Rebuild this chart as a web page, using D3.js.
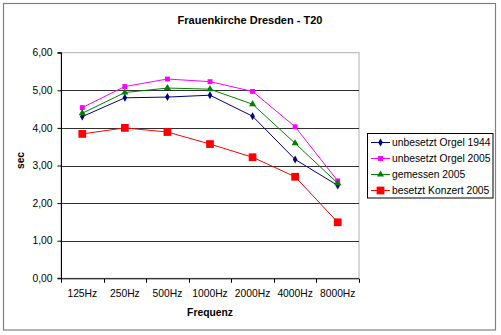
<!DOCTYPE html>
<html>
<head>
<meta charset="utf-8">
<script src="https://cdn.jsdelivr.net/npm/d3@7"></script>
<style>
  html, body { margin: 0; padding: 0; background: #fff; }
  svg { display: block; font-family: "Liberation Sans", Arial, sans-serif; }
</style>
</head>
<body>
<svg id="chart" width="501" height="335"></svg>
<script>
// Reverberation time T20 per octave band
const categories = ["125Hz", "250Hz", "500Hz", "1000Hz", "2000Hz", "4000Hz", "8000Hz"];
const seriesNames = ["unbesetzt Orgel 1944", "unbesetzt Orgel 2005", "gemessen 2005", "besetzt Konzert 2005"];
const orgel1944 = [4.30, 4.80, 4.82, 4.87, 4.31, 3.16, 2.47];
const orgel2005 = [4.54, 5.10, 5.30, 5.23, 4.97, 4.03, 2.59];
const gemessen2005 = [4.39, 4.94, 5.06, 5.03, 4.63, 3.59, 2.53];
const konzert2005 = [3.84, 4.00, 3.89, 3.57, 3.22, 2.70, 1.49];
const yTicks = [0, 1, 2, 3, 4, 5, 6];

const series = [
  { name: seriesNames[0], values: orgel1944, color: "#000080", symbol: d3.symbolDiamond, size: 18 },
  { name: seriesNames[1], values: orgel2005, color: "#FF00FF", symbol: d3.symbolSquare, size: 24 },
  { name: seriesNames[2], values: gemessen2005, color: "#008000", symbol: d3.symbolTriangle, size: 22 },
  { name: seriesNames[3], values: konzert2005, color: "#FF0000", symbol: d3.symbolSquare, size: 60 }
];

const FS = 10.3;
const svg = d3.select("#chart");
const plot = { left: 61, right: 359, top: 52.7, bottom: 278.3 };

// Outer chart frame
svg.append("rect")
  .attr("x", 3.5).attr("y", 3.5).attr("width", 492).attr("height", 326.5)
  .attr("fill", "#fff").attr("stroke", "#808080").attr("stroke-width", 1.2);

// Title
svg.append("text")
  .attr("x", 250).attr("y", 24)
  .attr("text-anchor", "middle")
  .attr("font-size", 11).attr("font-weight", "bold")
  .text("Frauenkirche Dresden - T20");

const x = d3.scaleBand().domain(categories).range([plot.left, plot.right]);
const y = d3.scaleLinear().domain([0, 6]).range([plot.bottom, plot.top]);

// Plot area border
svg.append("rect")
  .attr("x", plot.left).attr("y", plot.top)
  .attr("width", plot.right - plot.left).attr("height", plot.bottom - plot.top)
  .attr("fill", "none").attr("stroke", "#b0b0b0").attr("stroke-width", 1);

// Horizontal gridlines
svg.append("g")
  .selectAll("line")
  .data(yTicks.filter(t => t > 0 && t < 6))
  .join("line")
  .attr("x1", plot.left).attr("x2", plot.right)
  .attr("y1", d => Math.round(y(d)) + 0.5).attr("y2", d => Math.round(y(d)) + 0.5)
  .attr("stroke", "#303030").attr("stroke-width", 1);

// Y axis
const yAxis = svg.append("g")
  .attr("transform", `translate(${plot.left + 0.5},0)`)
  .call(d3.axisLeft(y).tickValues(yTicks).tickSize(4).tickPadding(5)
    .tickFormat(d => d3.format(".2f")(d).replace(".", ",")));
yAxis.select(".domain").attr("stroke", "#000").attr("d", `M-4,${plot.top}H0V${plot.bottom}H-4`);
yAxis.selectAll(".tick line").attr("stroke", "#000");
yAxis.selectAll(".tick text").attr("font-size", FS).attr("fill", "#000")
  .attr("font-family", "Liberation Sans, Arial, sans-serif");

// X axis with ticks at the band boundaries
const xAxis = svg.append("g")
  .attr("transform", `translate(0,${plot.bottom + 0.5})`)
  .call(d3.axisBottom(x).tickSize(0).tickPadding(11));
xAxis.select(".domain").attr("stroke", "#000").attr("d", `M${plot.left},0H${plot.right}`);
xAxis.selectAll(".tick text").attr("font-size", FS).attr("fill", "#000")
  .attr("font-family", "Liberation Sans, Arial, sans-serif");
xAxis.selectAll(".boundary")
  .data(d3.range(categories.length + 1))
  .join("line")
  .attr("class", "boundary")
  .attr("x1", i => Math.round(plot.left + i * x.step()) + 0.5)
  .attr("x2", i => Math.round(plot.left + i * x.step()) + 0.5)
  .attr("y1", 0).attr("y2", 4)
  .attr("stroke", "#000");

// Axis titles
svg.append("text")
  .attr("x", (plot.left + plot.right) / 2).attr("y", 316)
  .attr("text-anchor", "middle")
  .attr("font-size", FS).attr("font-weight", "bold")
  .text("Frequenz");
svg.append("text")
  .attr("transform", `translate(24,${(plot.top + plot.bottom) / 2 - 5}) rotate(-90)`)
  .attr("text-anchor", "middle")
  .attr("font-size", FS).attr("font-weight", "bold")
  .text("sec");

// Series lines and markers
const cx = c => x(c) + x.bandwidth() / 2;
const line = d3.line().x((d, i) => cx(categories[i])).y(d => y(d));

series.forEach(s => {
  const g = svg.append("g");
  g.append("path")
    .attr("d", line(s.values))
    .attr("fill", "none").attr("stroke", s.color).attr("stroke-width", 1);
  g.selectAll("path.marker")
    .data(s.values)
    .join("path")
    .attr("class", "marker")
    .attr("transform", (d, i) => `translate(${cx(categories[i])},${y(d)})`)
    .attr("d", d3.symbol().type(s.symbol).size(s.size))
    .attr("fill", s.color);
});

// Legend
const legend = svg.append("g");
legend.append("rect")
  .attr("x", 367.5).attr("y", 133.5).attr("width", 125.5).attr("height", 64.5)
  .attr("fill", "#fff").attr("stroke", "#000").attr("stroke-width", 1);
series.forEach((s, i) => {
  const ly = 142.5 + i * 16;
  legend.append("line")
    .attr("x1", 371).attr("x2", 390).attr("y1", ly).attr("y2", ly)
    .attr("stroke", s.color).attr("stroke-width", 1);
  legend.append("path")
    .attr("transform", `translate(380.5,${ly})`)
    .attr("d", d3.symbol().type(s.symbol).size(s.size))
    .attr("fill", s.color);
  legend.append("text")
    .attr("x", 392).attr("y", ly + 3.7)
    .attr("font-size", FS)
    .text(s.name);
});
</script>
</body>
</html>
